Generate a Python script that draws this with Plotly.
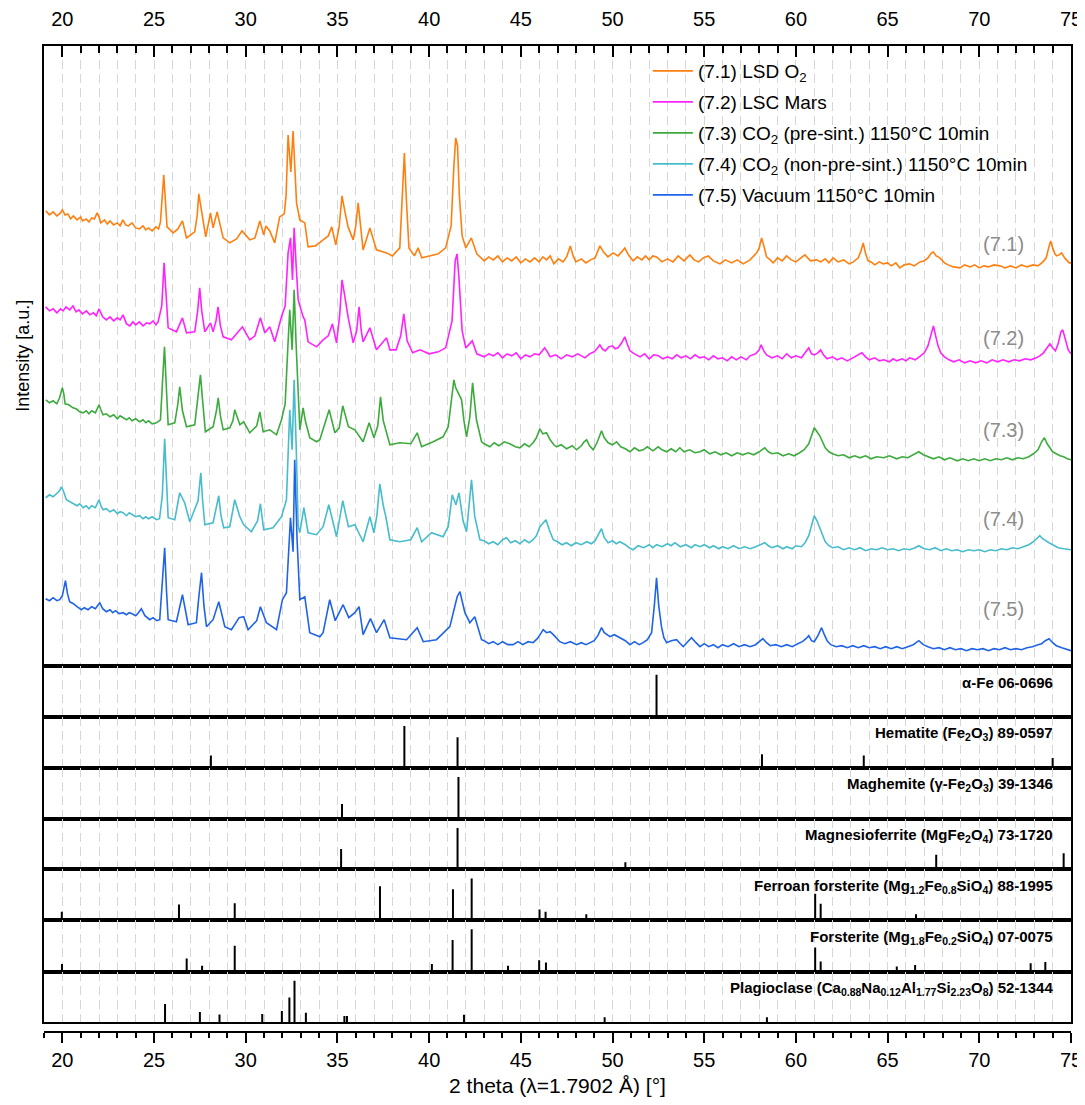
import plotly.graph_objects as go

# ---------------- XRD patterns (2theta in deg, intensity a.u. incl. vertical offsets) -------------
# (7.1) LSD O2
x71a = [19.1,19.3,19.5,19.7,19.9,20.0,20.15,20.3,20.45,20.6,20.8,21.0,21.1,21.3,21.45,21.6,21.75,21.9,22.0,22.1,
        22.3,22.45,22.6,22.8,23.0,23.15,23.3,23.45,23.6,23.8,24.0,24.2,24.4,24.55,24.7,24.9,25.1,25.25,25.35]
y71a = [455,451,454,450,453,456,451,452,447,450,446,449,445,447,444,448,447,453,449,443,
        446,442,445,441,443,440,446,441,440,443,438,437,440,436,438,435,439,437,444]
x71b = [25.45,25.53,25.62,25.71,
       26.04,26.3,26.55,26.77,27.22,27.35,27.44,27.55,27.67,27.82,28.08,28.22,28.44,28.6,28.77,29.13,29.5,29.8,30.22,
       30.5,30.77,30.98,31.1,31.31,31.58,31.85,32.1,32.2,32.31,32.46,32.58,32.7,32.77,32.95,33.22,33.4,33.8,34.22,34.5,
       34.69,34.91,35.1,35.25,35.4,35.58,35.86,36.0,36.13,36.25,36.4,36.77,37.13,37.68,38.0,38.4,38.55,38.65,38.75,38.9,
       39.2,39.4,39.6,40.0,40.5,40.9,41.2,41.35,41.45,41.55,41.65,41.8,42.0,42.3,42.6,
       43.0,43.25,43.5,43.75,44.0,44.25,44.5,44.75,45.0,45.25,45.5,45.75,46.0,46.2,46.4,46.6,46.8,47.05,47.3,47.5,47.7,
       47.85,48.0,48.3,48.55,48.8,49.05,49.31,49.5,49.75,50.03,50.3,50.5,50.67,50.9,51.13,51.35,51.6,51.8,52.0,52.2,52.4,
       52.7,53.0,53.3,53.58,53.9,54.22,54.45,54.7,54.95,55.22,55.5,55.86,56.15,56.5,56.8,57.13,57.5,57.86,58.0,58.13,
       58.28,58.4,58.6,58.76,59.0,59.25,59.49,59.75,60.0,60.25,60.49,60.8,61.13,61.35,61.6,61.8,62.03,62.3,62.6,62.9,
       63.13,63.4,63.55,63.67,63.8,63.94,64.1,64.3,64.55,64.76,65.0,65.2,65.45,65.67,65.9,66.2,66.45,66.77,67.0,67.2,
       67.35,67.49,67.65,67.85,68.1,68.3,68.6,68.95,69.2,69.5,69.75,70.0,70.25,70.5,70.8,71.13,71.4,71.7,72.0,72.3,
       72.6,72.93,73.2,73.47,73.65,73.78,73.89,74.0,74.12,74.22,74.35,74.49,74.65,74.8,74.9,75.0]
y71b = [470,491,465,439,
       433,437,445,428,434,450,472,460,449,429,453,438,454,440,428,423,427,435,426,
       428,445,431,440,435,423,449,452,470,531,494,535,490,463,446,443,419,420,426,430,
       439,421,440,470,455,439,426,440,463,440,416,438,416,413,410,418,470,513,470,418,
       410,418,408,410,412,418,440,500,528,520,470,430,418,428,412,
       405,409,406,410,404,408,405,409,403,407,404,408,404,409,406,410,402,407,404,409,420,
       410,404,407,403,406,408,420,414,409,413,410,414,418,410,405,409,406,410,406,410,409,
       404,407,404,410,405,411,406,404,408,410,405,402,406,403,406,402,406,413,418,428,
       418,409,406,403,408,405,410,406,404,408,411,405,406,404,407,403,408,404,406,402,
       404,408,415,423,412,405,404,401,404,402,403,400,403,398,401,402,400,404,405,408,
       412,414,410,408,403,401,399,398,401,399,401,398,400,399,401,400,398,400,398,401,
       399,401,400,404,408,418,425,418,412,410,411,413,408,405,403,403]

# (7.2) LSC Mars
x72a = [19.09,19.3,19.5,19.7,19.9,20.04,20.2,20.4,20.58,20.75,20.9,21.1,21.31,21.5,21.7,21.85,22.0,22.2,22.4,22.6,
        22.8,23.0,23.15,23.31,23.5,23.68,23.85,24.0,24.2,24.4,24.6,24.77,24.95,25.1,25.22]
y72a = [359,355,357,353,357,355,359,356,360,354,356,352,355,351,353,350,357,349,346,349,
        345,348,346,351,342,340,344,341,344,340,343,342,345,341,344]
x72b = [25.42,25.55,25.66,25.77,
       26.22,26.55,26.77,27.22,27.38,27.49,27.6,27.77,28.08,28.22,28.38,28.49,28.62,28.77,29.22,29.82,30.22,30.5,30.8,
       31.04,31.31,31.58,31.95,32.15,32.31,32.44,32.55,32.64,32.75,32.86,33.13,33.22,33.4,33.86,34.22,34.5,34.73,34.95,
       35.12,35.25,35.4,35.58,35.86,36.05,36.18,36.3,36.4,36.77,37.13,37.68,37.86,38.2,38.45,38.62,38.8,39.1,39.5,40.0,
       40.5,40.9,41.25,41.42,41.52,41.62,41.8,42.0,42.35,42.6,
       43.0,43.25,43.5,43.75,44.0,44.25,44.5,44.75,45.0,45.25,45.5,45.75,46.0,46.15,46.3,46.45,46.6,46.9,47.2,47.5,47.8,
       48.1,48.5,48.75,49.0,49.15,49.31,49.45,49.6,49.8,50.0,50.15,50.3,50.5,50.67,50.8,50.95,51.2,51.5,51.75,52.0,52.25,
       52.5,52.75,53.0,53.25,53.5,53.75,54.0,54.25,54.5,54.75,55.0,55.25,55.5,55.75,56.0,56.25,56.5,56.75,57.0,57.3,57.5,
       57.8,58.0,58.1,58.25,58.4,58.7,59.0,59.25,59.5,59.75,60.0,60.3,60.5,60.7,60.85,61.0,61.2,61.35,61.5,61.7,62.0,
       62.25,62.5,62.8,63.0,63.2,63.4,63.6,63.8,64.0,64.3,64.55,64.8,65.1,65.3,65.5,65.8,66.0,66.2,66.5,66.8,67.0,67.2,
       67.35,67.5,67.62,67.75,67.9,68.1,68.35,68.6,68.9,69.2,69.5,69.8,70.1,70.4,70.7,71.0,71.3,71.6,71.9,72.2,72.5,
       72.8,73.1,73.3,73.5,73.7,73.85,74.0,74.15,74.3,74.45,74.55,74.7,74.85,75.0]
y72b = [360,403,370,338,
       334,348,333,334,355,378,355,334,343,334,345,359,340,329,326,339,326,330,348,
       333,339,324,349,360,413,428,386,438,400,366,349,346,324,319,326,330,342,323,
       350,386,370,349,323,335,359,335,324,338,316,328,316,316,330,352,325,313,316,312,
       314,318,345,405,412,390,335,318,325,312,
       309,312,310,313,308,312,310,313,307,311,309,312,311,314,318,314,309,311,307,311,309,
       312,308,312,314,317,321,317,315,319,320,317,318,323,329,322,315,312,309,312,307,311,
       310,307,309,307,311,308,310,307,311,308,309,306,310,307,308,305,309,306,309,306,310,
       312,316,321,315,311,308,310,307,312,308,310,308,313,318,312,311,313,316,311,307,309,
       306,308,305,307,309,311,313,309,306,308,305,306,304,307,305,307,305,308,306,310,313,320,
       330,340,330,320,313,309,306,304,306,303,305,303,305,303,306,304,306,304,306,305,307,
       306,308,310,313,318,322,318,315,322,334,336,326,316,312]

# (7.3) CO2 pre-sintered
x73a = [19.1,19.3,19.5,19.7,19.85,20.0,20.08,20.15,20.35,20.58,20.75,20.95,21.13,21.3,21.45,21.6,21.8,22.0,22.1,22.22,
        22.4,22.6,22.8,23.0,23.15,23.31,23.5,23.65,23.8,24.0,24.22,24.4,24.55,24.7,24.9,25.13,25.35]
y73a = [266,263,265,262,268,278,272,262,261,258,257,254,253,255,252,255,253,261,256,251,
        252,249,251,247,250,248,246,248,245,247,244,246,243,245,242,243,246]
x73b = [25.45,25.57,25.68,
       25.77,26.13,26.3,26.4,26.55,26.77,27.22,27.4,27.53,27.65,27.8,28.22,28.4,28.5,28.62,28.77,29.13,29.3,29.4,29.68,
       29.89,30.22,30.6,30.77,30.95,31.31,31.68,31.95,32.15,32.3,32.4,32.53,32.64,32.75,32.95,33.13,33.25,33.49,33.86,
       34.04,34.31,34.55,34.86,35.1,35.29,35.6,35.95,36.4,36.73,36.99,37.2,37.35,37.5,37.68,37.86,38.4,39.0,39.35,39.59,
       40.22,40.76,41.04,41.2,41.35,41.45,41.58,41.77,41.9,42.04,42.22,42.37,42.58,42.86,
       43.0,43.31,43.55,43.8,44.1,44.4,44.7,44.95,45.2,45.45,45.67,45.85,46.04,46.2,46.4,46.6,46.8,46.95,47.2,47.5,47.8,
       48.04,48.3,48.45,48.59,48.75,48.95,49.15,49.3,49.4,49.55,49.76,50.0,50.22,50.45,50.7,50.95,51.2,51.45,51.67,51.9,
       52.2,52.49,52.7,52.95,53.2,53.45,53.67,53.9,54.2,54.5,54.77,55.0,55.3,55.6,55.9,56.2,56.5,56.8,57.1,57.4,57.7,
       58.0,58.3,58.5,58.7,59.0,59.3,59.6,59.9,60.2,60.45,60.7,60.85,61.0,61.15,61.3,61.45,61.6,61.8,62.0,62.3,62.6,
       62.9,63.2,63.5,63.8,64.1,64.4,64.8,65.1,65.5,65.8,66.1,66.4,66.7,66.95,67.2,67.5,67.8,68.1,68.4,68.8,69.1,69.4,
       69.7,70.0,70.3,70.6,70.9,71.2,71.5,71.8,72.1,72.4,72.7,72.95,73.2,73.4,73.55,73.7,73.85,74.0,74.2,74.4,74.6,74.8,75.0]
y73b = [280,319,275,
       241,243,262,279,255,239,241,270,291,265,234,239,255,268,250,236,238,245,256,241,
       244,233,240,254,234,236,231,246,262,320,356,316,376,320,236,258,245,228,224,
       226,243,256,233,238,260,239,236,224,243,228,240,269,245,233,221,223,222,233,219,
       224,229,239,265,286,278,273,266,245,229,249,283,246,224,
       222,219,223,220,224,222,219,218,222,219,223,228,237,232,233,226,221,219,221,217,220,
       216,220,224,226,220,216,223,230,235,228,223,221,224,219,217,214,218,215,216,219,
       215,219,216,214,217,214,218,214,216,213,214,216,212,214,211,213,210,213,211,213,211,
       214,218,214,212,213,210,212,210,213,216,222,230,238,234,230,224,218,214,212,210,211,
       208,210,208,210,207,209,208,210,207,209,208,211,214,211,209,207,209,206,208,205,207,205,
       207,205,207,205,207,206,208,206,208,207,209,212,216,224,228,222,218,214,212,210,209,207,206]

# (7.4) CO2 non-pre-sintered
x74a = [19.09,19.3,19.5,19.7,19.85,19.95,20.05,20.22,20.4,20.6,20.8,20.95,21.13,21.3,21.45,21.6,21.8,22.0,22.1,22.22,
        22.4,22.6,22.8,23.0,23.15,23.31,23.5,23.65,23.8,24.0,24.22,24.4,24.55,24.7,24.9,25.13,25.3]
y74a = [168,171,169,172,175,179,175,166,164,162,160,162,158,160,157,160,158,166,160,156,
        157,154,156,152,154,153,150,153,151,149,150,147,149,147,149,146,147]
x74b = [25.45,25.58,25.68,25.77,
       26.13,26.4,26.67,26.95,27.4,27.55,27.65,27.77,28.22,28.4,28.53,28.65,28.8,29.13,29.4,29.68,29.89,30.31,30.65,30.8,
       30.98,31.49,31.95,32.22,32.4,32.53,32.64,32.75,32.86,32.95,33.17,33.4,33.86,34.22,34.53,34.95,35.1,35.29,35.6,
       35.95,36.4,36.77,36.99,37.15,37.31,37.5,37.64,37.86,38.4,39.0,39.35,39.59,40.13,40.76,41.04,41.26,41.46,41.63,
       41.85,42.04,42.31,42.49,42.77,
       43.0,43.25,43.49,43.75,44.0,44.22,44.45,44.7,44.95,45.2,45.45,45.67,45.85,46.04,46.2,46.37,46.55,46.77,47.0,47.25,
       47.49,47.75,48.0,48.3,48.59,48.85,49.05,49.2,49.4,49.55,49.76,50.0,50.2,50.4,50.7,50.9,51.13,51.4,51.7,52.0,52.2,
       52.4,52.7,53.0,53.2,53.4,53.7,54.0,54.3,54.5,54.77,55.0,55.3,55.5,55.8,56.0,56.3,56.6,56.9,57.2,57.5,57.8,58.05,
       58.3,58.5,58.7,59.0,59.3,59.5,59.8,60.0,60.3,60.5,60.7,60.85,61.0,61.15,61.3,61.45,61.6,61.8,62.0,62.3,62.6,62.9,
       63.2,63.5,63.8,64.1,64.4,64.7,65.0,65.3,65.6,65.9,66.2,66.5,66.7,67.0,67.3,67.6,67.9,68.2,68.5,68.8,69.1,69.4,
       69.7,70.0,70.3,70.6,70.9,71.2,71.5,71.8,72.1,72.4,72.7,72.95,73.15,73.3,73.45,73.6,73.8,74.0,74.3,74.6,75.0]
y74b = [170,227,180,148,
       146,173,163,144,165,193,165,141,143,158,170,150,138,139,166,149,141,134,145,162,
       136,138,149,166,256,216,286,220,140,133,158,133,131,139,161,129,145,165,139,
       141,124,149,133,150,182,160,149,126,124,126,138,124,133,129,139,171,161,173,
       145,134,186,149,126,
       125,122,124,121,126,128,123,125,122,126,123,126,130,139,142,146,136,126,124,121,
       123,120,123,121,124,122,125,130,137,128,123,125,122,124,121,118,116,120,118,121,118,
       121,119,122,120,123,119,121,118,121,119,121,118,120,117,119,117,120,117,119,117,119,121,
       123,120,118,120,117,119,117,120,119,123,130,140,150,145,138,130,124,120,118,119,116,118,
       116,118,115,117,116,118,116,117,115,117,116,118,120,117,116,118,115,117,115,116,114,116,
       115,116,114,116,115,117,116,118,117,119,121,124,128,130,127,125,123,121,118,117,116]

# (7.5) Vacuum
x75a = [19.09,19.3,19.5,19.7,19.86,20.0,20.17,20.28,20.4,20.6,20.8,21.04,21.2,21.4,21.6,21.8,22.04,22.2,22.4,22.6,
        22.75,22.9,23.1,23.31,23.5,23.65,23.8,24.0,24.15,24.31,24.5,24.65,24.77,24.95,25.15,25.31]
y75a = [67,65,68,65,66,70,85,72,64,62,59,56,58,56,59,57,63,57,54,56,
        53,55,52,53,51,53,52,50,53,57,50,48,46,48,45,46]
x75b = [25.45,25.58,25.68,25.77,
       26.22,26.55,26.86,27.31,27.45,27.59,27.72,27.86,28.22,28.53,28.86,29.22,29.64,29.89,30.13,30.6,30.8,31.13,31.68,
       32.0,32.22,32.44,32.58,32.67,32.8,32.95,33.22,33.49,34.04,34.22,34.58,34.88,35.31,35.62,35.95,36.18,36.4,36.8,
       37.13,37.55,37.86,38.77,39.35,39.68,40.4,40.86,41.13,41.53,41.68,41.95,42.22,42.49,42.86,
       43.0,43.25,43.49,43.75,44.0,44.3,44.58,44.85,45.1,45.4,45.67,45.9,46.05,46.22,46.4,46.6,46.77,46.95,47.13,47.4,
       47.7,48.04,48.3,48.55,48.77,49.0,49.2,49.4,49.55,49.7,49.86,50.1,50.4,50.7,50.95,51.2,51.45,51.67,51.9,52.13,
       52.28,52.4,52.52,52.67,52.8,52.95,53.2,53.49,53.7,53.86,54.1,54.31,54.55,54.77,55.0,55.25,55.5,55.75,56.0,56.3,
       56.6,56.9,57.2,57.5,57.8,58.0,58.2,58.4,58.6,58.9,59.2,59.5,59.8,60.1,60.35,60.55,60.7,60.85,61.0,61.2,61.4,61.55,
       61.7,61.9,62.2,62.5,62.8,63.1,63.4,63.7,64.0,64.3,64.6,64.9,65.2,65.5,65.8,66.1,66.4,66.7,66.95,67.2,67.5,67.8,
       68.1,68.4,68.7,69.0,69.3,69.6,69.9,70.2,70.5,70.8,71.1,71.4,71.7,72.0,72.3,72.6,72.9,73.2,73.4,73.6,73.8,74.0,
       74.2,74.5,74.8,75.0]
y75b = [80,118,75,46,
       44,71,41,43,70,93,60,39,46,64,39,36,48,49,36,45,59,43,36,
       66,73,148,114,206,126,66,69,33,29,33,66,45,61,48,53,59,31,47,
       33,46,28,26,38,24,26,34,39,69,74,53,43,49,26,
       25,22,24,21,24,21,21,24,21,24,23,27,31,36,33,34,31,27,24,22,
       24,21,23,21,23,25,30,38,33,31,29,31,28,25,21,24,21,23,26,33,
       60,88,60,39,28,23,25,26,22,19,24,28,23,19,22,19,21,18,21,19,
       22,19,21,19,21,24,27,23,20,21,19,21,19,22,24,27,30,25,24,30,38,31,
       25,21,19,20,18,20,18,20,18,19,17,19,17,19,17,19,21,25,21,19,17,18,
       16,18,16,17,15,17,16,17,15,17,16,18,16,17,16,18,19,21,22,25,27,23,
       20,18,16,15]

series_names = ["(7.1) LSD O<sub>2</sub>", "(7.2) LSC Mars",
                "(7.3) CO<sub>2</sub> (pre-sint.) 1150°C 10min",
                "(7.4) CO<sub>2</sub> (non-pre-sint.) 1150°C 10min",
                "(7.5) Vacuum 1150°C 10min"]
series_labels = ["(7.1)", "(7.2)", "(7.3)", "(7.4)", "(7.5)"]
label_y = [422, 328, 236, 147, 57]
colors = ["#FF7F0E", "#FF22FF", "#3DAA3D", "#47BCCC", "#1F63E6"]

# ---------------- reference patterns (position, relative intensity) ----------------
ref_names = ["<b>α-Fe 06-0696</b>",
             "<b>Hematite (Fe<sub>2</sub>O<sub>3</sub>) 89-0597</b>",
             "<b>Maghemite (γ-Fe<sub>2</sub>O<sub>3</sub>) 39-1346</b>",
             "<b>Magnesioferrite (MgFe<sub>2</sub>O<sub>4</sub>) 73-1720</b>",
             "<b>Ferroan forsterite (Mg<sub>1.2</sub>Fe<sub>0.8</sub>SiO<sub>4</sub>) 88-1995</b>",
             "<b>Forsterite (Mg<sub>1.8</sub>Fe<sub>0.2</sub>SiO<sub>4</sub>) 07-0075</b>",
             "<b>Plagioclase (Ca<sub>0.88</sub>Na<sub>0.12</sub>Al<sub>1.77</sub>Si<sub>2.23</sub>O<sub>8</sub>) 52-1344</b>"]
alpha_fe_pos = [52.4]
alpha_fe_int = [100]
hematite_pos = [28.1, 38.65, 41.55, 58.15, 63.7, 74.0]
hematite_int = [29, 100, 73, 32, 29, 23]
maghemite_pos = [35.25, 41.6]
maghemite_int = [36, 100]
magnesioferrite_pos = [35.2, 41.55, 50.7, 67.65, 74.6]
magnesioferrite_int = [49, 100, 17, 35, 39]
ferroan_pos = [19.97, 26.36, 29.4, 37.32, 41.3, 42.32, 46.02, 46.35, 48.57, 61.05, 61.35, 66.55]
ferroan_int = [20, 37, 40, 81, 74, 100, 25, 20, 14, 63, 39, 14]
forsterite_pos = [19.98, 26.78, 27.62, 29.4, 40.15, 41.28, 42.32, 44.3, 46.0, 46.37, 61.05, 61.35, 65.5, 66.5, 72.8, 73.6]
forsterite_int = [18, 31, 14, 61, 18, 75, 100, 14, 27, 22, 57, 24, 12, 16, 20, 23]
plagioclase_pos = [25.6, 27.5, 28.57, 30.9, 31.97, 32.38, 32.66, 33.28, 35.38, 35.52, 41.9, 49.57, 58.42]
plagioclase_int = [44, 25, 19, 20, 27, 60, 100, 23, 15, 15, 18, 12, 12]

refs = [(alpha_fe_pos, alpha_fe_int), (hematite_pos, hematite_int), (maghemite_pos, maghemite_int),
        (magnesioferrite_pos, magnesioferrite_int), (ferroan_pos, ferroan_int),
        (forsterite_pos, forsterite_int), (plagioclase_pos, plagioclase_int)]

xs = [x71a + x71b, x72a + x72b, x73a + x73b, x74a + x74b, x75a + x75b]
ys = [y71a + y71b, y72a + y72b, y73a + y73b, y74a + y74b, y75a + y75b]
for a, b in zip(xs, ys):
    assert len(a) == len(b), (len(a), len(b))

FONT = "Arial, Liberation Sans, sans-serif"
W, H = 1085, 1105
# panel boundaries in paper fraction (bottom -> top)
bounds = [0.0088, 0.0602, 0.1127, 0.1642, 0.2152, 0.2673, 0.3191, 0.3709]
legend_rows = [0.9746, 0.9431, 0.9117, 0.8802, 0.8487]
GRID = dict(showgrid=True, gridcolor="#d6d6d6", gridwidth=1, griddash="9px,5px")

fig = go.Figure()

# invisible anchor trace for bottom axis
fig.add_trace(go.Scatter(x=[19, 75], y=[0, 0], mode="none", showlegend=False, hoverinfo="skip",
                         xaxis="x", yaxis="y"))

legend_ids = ["legend", "legend2", "legend3", "legend4", "legend5"]
for i in range(5):
    fig.add_trace(go.Scatter(x=xs[i], y=ys[i], mode="lines", name=series_names[i],
                             line=dict(color=colors[i], width=1.6), xaxis="x2", yaxis="y2",
                             legend=legend_ids[i]))

for k, (pos, inten) in enumerate(refs):
    sx, sy = [], []
    for p, v in zip(pos, inten):
        sx += [p, p, None]
        sy += [0, v, None]
    n = k + 3
    fig.add_trace(go.Scatter(x=sx, y=sy, mode="lines", showlegend=False,
                             line=dict(color="black", width=2),
                             xaxis=f"x{n}", yaxis=f"y{n}"))

layout = dict(
    width=W, height=H,
    margin=dict(l=36, r=22, t=38, b=82, autoexpand=False),
    paper_bgcolor="white", plot_bgcolor="white",
    font=dict(family=FONT, color="black"),
    showlegend=True,
    xaxis=dict(domain=[0, 1], anchor="y", range=[19, 75], side="bottom", automargin=False,
               showline=True, linecolor="black", linewidth=2, showgrid=False, zeroline=False,
               ticks="outside", ticklen=10, tickwidth=2, tickcolor="black", tick0=20, dtick=5,
               tickfont=dict(size=20),
               minor=dict(ticks="outside", ticklen=5, tickwidth=2, tickcolor="black", dtick=1, showgrid=False),
               title=dict(text="2 theta (λ=1.7902 Å) [°]", font=dict(size=21), standoff=8)),
    yaxis=dict(domain=[0, 0.002], anchor="x", visible=False, range=[0, 1]),
    xaxis2=dict(domain=[0, 1], anchor="y2", matches="x", side="top", showline=True, mirror=True,
                automargin=False, linecolor="black", linewidth=2, zeroline=False,
                ticks="inside", ticklen=11, tickwidth=1.5, tickcolor="black", tick0=20, dtick=5,
                tickfont=dict(size=20), ticklabelstandoff=10,
                minor=dict(ticks="inside", ticklen=7, tickwidth=1.5, tickcolor="black", dtick=1,
                           **GRID),
                **GRID),
    yaxis2=dict(domain=[bounds[7], 1], anchor="x2", range=[0, 620], showline=True, mirror=True,
                automargin=False, linecolor="black", linewidth=2, showgrid=False, zeroline=False, ticks="",
                showticklabels=False,
                title=dict(text="Intensity [a.u.]", font=dict(size=18), standoff=8)),
)

for i, lid in enumerate(legend_ids):
    layout[lid] = dict(x=0.588, y=legend_rows[i], xanchor="left", yanchor="middle",
                       bgcolor="rgba(0,0,0,0)", borderwidth=0,
                       font=dict(size=19, family=FONT, color="black"), itemwidth=40)

for k in range(7):
    n = k + 3
    lo = bounds[6 - k]
    hi = bounds[7 - k]
    layout[f"xaxis{n}"] = dict(domain=[0, 1], anchor=f"y{n}", matches="x", showline=True, mirror=True,
                               automargin=False, linecolor="black", linewidth=2, zeroline=False,
                               showticklabels=False, ticks="", tick0=20, dtick=5,
                               minor=dict(dtick=1, **GRID), **GRID)
    layout[f"yaxis{n}"] = dict(domain=[lo, hi], anchor=f"x{n}", range=[0, 122], showline=True, mirror=True,
                               automargin=False, linecolor="black", linewidth=2, showgrid=False,
                               zeroline=False, showticklabels=False, ticks="")

fig.update_layout(**layout)

annotations = []
for i in range(5):
    annotations.append(dict(x=71.3, y=label_y[i], xref="x2", yref="y2", text=series_labels[i],
                            showarrow=False, font=dict(size=20, color="#8c8c8c", family=FONT),
                            xanchor="center", yanchor="middle"))
for k in range(7):
    n = k + 3
    annotations.append(dict(x=0.9845, y=0.67, xref="paper", yref=f"y{n} domain", text=ref_names[k],
                            showarrow=False, font=dict(size=15, color="black", family=FONT),
                            xanchor="right", yanchor="middle"))
fig.update_layout(annotations=annotations)

fig.write_html("out.html")
